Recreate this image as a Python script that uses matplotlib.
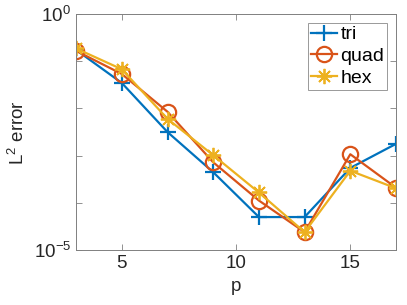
import numpy as np
import matplotlib
matplotlib.use('Agg')
import matplotlib.pyplot as plt
from matplotlib.ticker import FixedLocator, FixedFormatter, NullLocator

plt.rcParams['font.family'] = ['Liberation Sans', 'DejaVu Sans']
plt.rcParams['mathtext.fontset'] = 'custom'
plt.rcParams['mathtext.rm'] = 'Liberation Sans'
plt.rcParams['mathtext.it'] = 'Liberation Sans'
plt.rcParams['mathtext.default'] = 'regular'

# Données (log10 de l'erreur)
p = [3, 5, 7, 9, 11, 13, 15, 17]
log_tri = [-0.76, -1.46, -2.50, -3.35, -4.30, -4.30, -3.26, -2.75]
log_quad = [-0.78, -1.27, -2.07, -3.14, -3.95, -4.62, -2.97, -3.68]
log_hex = [-0.73, -1.17, -2.22, -2.99, -3.78, -4.62, -3.32, -3.69]

err_tri = 10 ** np.array(log_tri)
err_quad = 10 ** np.array(log_quad)
err_hex = 10 ** np.array(log_hex)

fig = plt.figure(figsize=(4.07, 3.05), dpi=100)
ax = fig.add_axes([0.187, 0.180, 0.786, 0.774])

ax.semilogy(p, err_tri, '-+', color='#0072BD', lw=1.6, ms=11, mew=1.6, label='tri')
ax.semilogy(p, err_quad, '-o', color='#D95319', lw=1.6, ms=11, mew=1.6,
            mfc='none', label='quad')
ax.semilogy(p, err_hex, '-', marker=(8, 2, 0), color='#EDB120', lw=1.6, ms=11,
            mew=1.3, label='hex')

ax.set_xlim(3, 17)
ax.set_ylim(1e-5, 1e0)
ax.set_xticks([5, 10, 15])
ax.yaxis.set_major_locator(FixedLocator([1e-5, 1e-4, 1e-3, 1e-2, 1e-1, 1e0]))
ax.yaxis.set_major_formatter(FixedFormatter(['$10^{-5}$', '', '', '', '', '$10^{0}$']))
ax.yaxis.set_minor_locator(NullLocator())

for s in ax.spines.values():
    s.set_color('#808080')
    s.set_linewidth(0.7)
ax.tick_params(direction='in', top=True, right=True, length=4, width=0.6,
               colors='#808080', labelcolor='#262626', labelsize=13.5)

ax.set_xlabel('p', fontsize=13.5, color='#262626')
ax.set_ylabel('L$^2$ error', fontsize=13.5, color='#262626')

leg = ax.legend(loc='upper right', fontsize=14, fancybox=False, handlelength=1.3,
                handletextpad=0.2, borderpad=0.15, labelspacing=0.22,
                borderaxespad=0.45)
leg.get_frame().set_edgecolor('#808080')
leg.get_frame().set_linewidth(0.7)

fig.savefig('out.png', dpi=100)
